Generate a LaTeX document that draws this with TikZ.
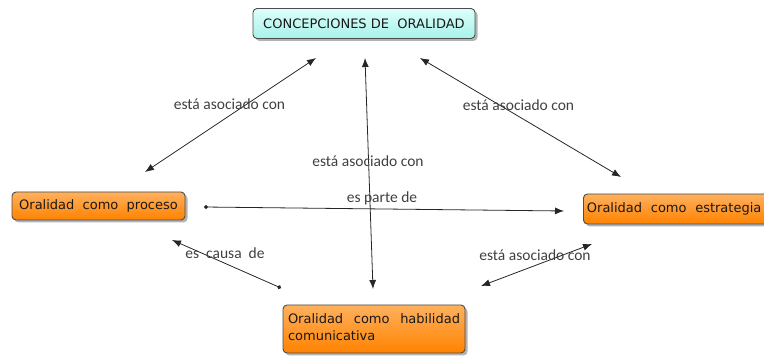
\documentclass[tikz,border=0pt]{standalone}
\usepackage{fontspec}
\setmainfont{DejaVu Sans}
\newfontfamily\labelfont{Carlito}
\usetikzlibrary{arrows.meta,shadows}
\definecolor{orangetop}{HTML}{FFB15E}
\definecolor{orangebot}{HTML}{FF8200}
\definecolor{cyantop}{HTML}{DDFFFA}
\definecolor{cyanbot}{HTML}{A6F2EA}
\definecolor{labelgray}{HTML}{404040}
\begin{document}
\begin{tikzpicture}[x=1pt,y=-1pt,
  box/.style={draw=black!70, line width=0.9pt, rounded corners=4pt,
    drop shadow={shadow xshift=2.5pt,shadow yshift=-2.5pt,fill=black!50,opacity=0.6},
    inner sep=0pt, font=\fontsize{13}{17}\selectfont, text=black!90},
  orangebox/.style={box, top color=orangetop, bottom color=orangebot},
  cyanbox/.style={box, top color=cyantop, bottom color=cyanbot},
  conn/.style={line width=0.8pt, black!85},
  dbl/.style={{Latex[length=9pt,width=7pt]}-{Latex[length=9pt,width=7pt]}},
  dotarr/.style={{Circle[length=4pt]}-{Latex[length=9pt,width=7pt]}},
  lbl/.style={font=\labelfont\fontsize{15.5}{18}\selectfont, text=labelgray, inner sep=0pt}
]
\useasboundingbox (0,0) rectangle (764,358);

% nodes
\node[cyanbox, minimum width=222pt, minimum height=30pt] (top) at (364,23.5) {CONCEPCIONES DE\ \ ORALIDAD};
\node[orangebox, minimum width=173pt, minimum height=28pt] (proc) at (98.5,206) {Oralidad\ \ como\ \ proceso};
\node[orangebox, minimum width=192pt, minimum height=30pt, anchor=west, text width=192pt, align=left] (estr) at (583,209)
  {\hspace*{3.5pt}Oralidad\ \ como\ \ estrategia};
\node[orangebox, minimum width=182pt, minimum height=48pt] (hab) at (374,329)
  {\parbox{172pt}{\strut Oralidad\hfill como\hfill habilidad\\\strut comunicativa}};

% connector end points
\coordinate (a1) at (316,58);
\coordinate (a2) at (145,172);
\coordinate (b1) at (420,58);
\coordinate (b2) at (621,177);
\coordinate (c1) at (365,58);
\coordinate (c2) at (373,289);
\coordinate (d1) at (204,207);
\coordinate (d2) at (564,211);
\coordinate (e1) at (281,288);
\coordinate (e2) at (172,240);
\coordinate (f1) at (481,286);
\coordinate (f2) at (592,244);

% connectors
\draw[conn,dbl] (a2) -- (a1);
\draw[conn,dbl] (b1) -- (b2);
\draw[conn,dbl] (c1) -- (c2);
\draw[conn,dotarr] (d1) -- (d2);
\draw[conn,dotarr] (e1) -- (e2);
\draw[conn,dbl] (f1) -- (f2);

% labels
\node[lbl] (l1) at (229.5,104) {está asociado con};
\node[lbl] (l2) at (518.5,105) {está asociado con};
\node[lbl] (l3) at (368,161) {está asociado con};
\node[lbl] (l4) at (382,198) {es parte de};
\node[lbl] (l5) at (225,253) {es\ \ causa\ \ de};
\node[lbl] (l6) at (535,255) {está asociado con};
\end{tikzpicture}
\end{document}
